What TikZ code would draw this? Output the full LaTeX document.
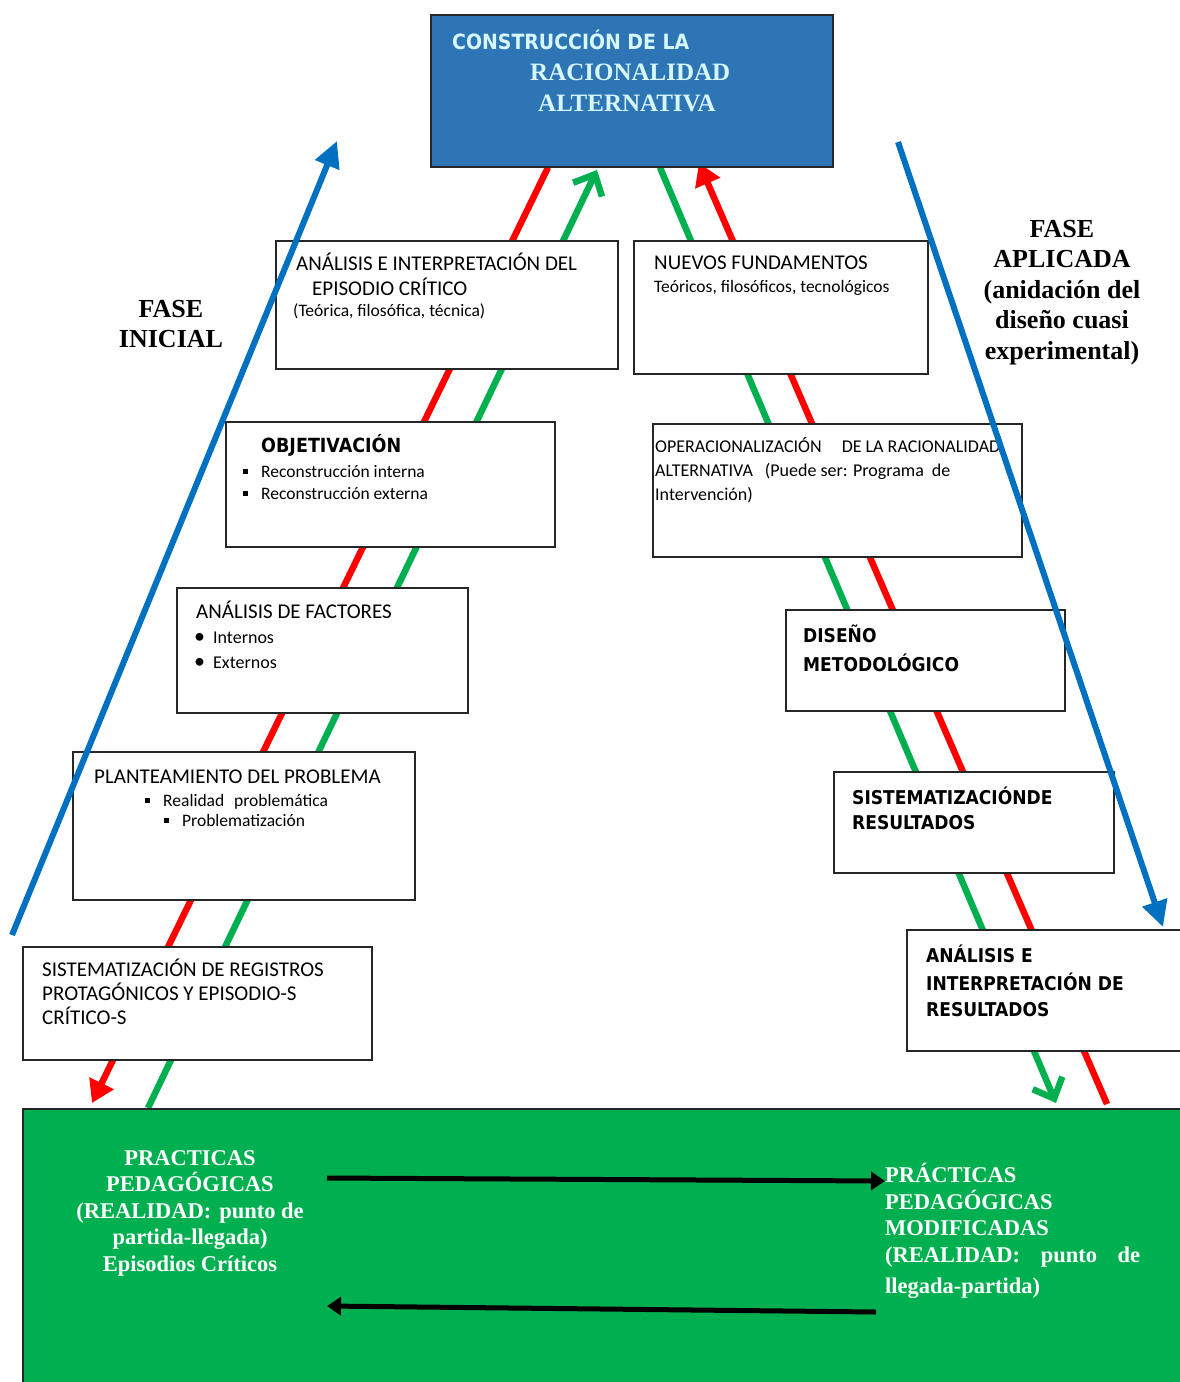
\documentclass[tikz,border=0pt]{standalone}
\usepackage{fontspec}
\setmainfont{Liberation Serif}
\setsansfont{Carlito}
\newfontfamily\heavysans{DejaVu Sans Condensed}
\usetikzlibrary{positioning,calc,arrows.meta,backgrounds}

\definecolor{razonblue}{RGB}{46,117,182}
\definecolor{razonink}{RGB}{214,248,252}
\definecolor{realgreen}{RGB}{0,176,80}
\definecolor{faseblue}{RGB}{0,112,192}
\definecolor{backred}{RGB}{255,0,0}

\newcommand{\sqbullet}{\rule[3pt]{5pt}{5pt}\hspace{13pt}}
\newcommand{\rdbullet}{{\fontsize{22}{22}\selectfont\textbullet}\hspace{8pt}}

\tikzset{
  stage/.style={draw=black!85, line width=1.5pt, fill=white, anchor=north west, inner sep=0pt},
  capline/.style={anchor=base west, inner sep=0pt, font=\sffamily\fontsize{21}{21}\selectfont},
  midline/.style={capline, font=\sffamily\fontsize{18}{18}\selectfont},
  smallline/.style={capline, font=\sffamily\fontsize{17.5}{17.5}\selectfont},
  heavyline/.style={capline, font=\heavysans\bfseries\fontsize{19}{19}\selectfont},
  razonline/.style={anchor=base west, inner sep=0pt, text=razonink, font=\bfseries\fontsize{25}{25}\selectfont},
  realline/.style={inner sep=0pt, text=white, font=\bfseries\fontsize{22.5}{26.5}\selectfont},
  faselabel/.style={anchor=north, inner sep=0pt, align=center, font=\bfseries\fontsize{26}{30.5}\selectfont},
  redback/.style={backred, line width=6.5pt, -{Triangle[length=22pt,width=26pt]}},
  greenback/.style={realgreen, line width=6.5pt, -{Straight Barb[length=17pt,width=32pt]}},
  fase/.style={faseblue, line width=6pt, -{Triangle[length=26pt,width=25pt]}},
  cycle/.style={black, line width=5pt, -{Triangle[length=14pt,width=18pt]}},
}

\begin{document}
\begin{tikzpicture}[x=1pt, y=-1pt]
  \clip (0,0) rectangle (1180,1382);
  \useasboundingbox (0,0) rectangle (1180,1382);

  % top and bottom
  \node[stage, fill=razonblue, minimum width=402, minimum height=152] (razon) at (430,14) {};
  \node[stage, fill=realgreen, minimum width=1200, minimum height=300] (practica) at (22,1108) {};

  % left column
  \node[stage, minimum width=342, minimum height=128] (teoria) at (275,240) {};
  \node[stage, minimum width=329, minimum height=125] (objet) at (225,421) {};
  \node[stage, minimum width=291, minimum height=125] (factor) at (176,587) {};
  \node[stage, minimum width=342, minimum height=148] (plante) at (72,751) {};
  \node[stage, minimum width=349, minimum height=113] (regist) at (22,946) {};

  % right column
  \node[stage, minimum width=294, minimum height=133] (nuevos) at (633,240) {};
  \node[stage, minimum width=369, minimum height=133] (operac) at (652,423) {};
  \node[stage, minimum width=279, minimum height=101] (diseno) at (785,609) {};
  \node[stage, minimum width=280, minimum height=101] (sisres) at (833,771) {};
  \node[stage, minimum width=300, minimum height=121] (interp) at (906,929) {};

  % red and green lines behind the boxes
  \coordinate (redUpL) at ($(razon.south west)+(118,0)$);
  \coordinate (redDnL) at (92,1103);
  \coordinate (grnDnL) at ($(practica.north west)+(126,0)$);
  \coordinate (grnUpL) at (597,170);
  \coordinate (grnUpR) at ($(razon.south west)+(230,0)$);
  \coordinate (grnDnR) at (1056,1103);
  \coordinate (redDnR) at ($(practica.north west)+(1085,-4)$);
  \coordinate (redUpR) at (699,163);
  \begin{scope}[on background layer]
    \draw[redback] (redUpL) -- (redDnL);
    \draw[greenback] (grnDnL) -- (grnUpL);
    \draw[greenback] (grnUpR) -- (grnDnR);
    \draw[redback] (redDnR) -- (redUpR);
  \end{scope}

  % top text
  \node[razonline, font=\heavysans\bfseries\fontsize{21}{21}\selectfont] (razon1) at (452,49) {CONSTRUCCIÓN DE LA};
  \node[razonline] (razon2) at (530,80) {RACIONALIDAD};
  \node[razonline] (razon3) at (538,111) {ALTERNATIVA};

  % left texts
  \node[capline] (teoria1) at (296,270) {ANÁLISIS E INTERPRETACIÓN DEL};
  \node[capline] (teoria2) at (312,295) {EPISODIO CRÍTICO};
  \node[smallline] (teoria3) at (293,316) {(Teórica, filosófica, técnica)};
  \node[heavyline, font=\heavysans\bfseries\fontsize{19.5}{19.5}\selectfont] (objet1) at (261,452) {OBJETIVACIÓN};
  \node[smallline] (objet2) at (243,477) {\sqbullet Reconstrucción interna};
  \node[smallline] (objet3) at (243,499) {\sqbullet Reconstrucción externa};
  \node[capline] (factor1) at (196,618) {ANÁLISIS DE FACTORES};
  \node[midline] (factor2) at (194,643) {\rdbullet Internos};
  \node[midline] (factor3) at (194,668) {\rdbullet Externos};
  \node[capline] (plante1) at (94,783) {PLANTEAMIENTO DEL PROBLEMA};
  \node[smallline] (plante2) at (145,806) {\sqbullet Realidad\hspace{6pt} problemática};
  \node[smallline] (plante3) at (164,826) {\sqbullet Problematización};
  \node[capline] (regist1) at (42,976) {SISTEMATIZACIÓN DE REGISTROS};
  \node[capline] (regist2) at (42,1000) {PROTAGÓNICOS Y EPISODIO-S};
  \node[capline] (regist3) at (42,1024) {CRÍTICO-S};

  % right texts
  \node[capline] (nuevos1) at (654,269) {NUEVOS FUNDAMENTOS};
  \node[smallline] (nuevos2) at (654,292) {Teóricos, filosóficos, tecnológicos};
  \node[midline] (operac1) at (655,452) {OPERACIONALIZACIÓN\hspace{20pt}DE LA RACIONALIDAD};
  \node[midline] (operac2) at (655,476) {ALTERNATIVA\hspace{12pt}(Puede ser: Programa\hspace{8pt}de};
  \node[midline] (operac3) at (655,500) {Intervención)};
  \node[heavyline] (diseno1) at (803,642) {DISEÑO};
  \node[heavyline] (diseno2) at (803,671) {METODOLÓGICO};
  \node[heavyline] (sisres1) at (852,804) {SISTEMATIZACIÓNDE};
  \node[heavyline] (sisres2) at (852,829) {RESULTADOS};
  \node[heavyline] (interp1) at (926,962) {ANÁLISIS E};
  \node[heavyline] (interp2) at (926,990) {INTERPRETACIÓN DE};
  \node[heavyline] (interp3) at (926,1016) {RESULTADOS};

  % practice box
  \node[realline, anchor=north, align=center] (antes) at (190,1150)
    {PRACTICAS\\PEDAGÓGICAS\\(REALIDAD:\hspace{8pt}punto de\\partida-llegada)\\Episodios Críticos};
  \node[realline, anchor=north west, align=left] (despues) at (885,1163)
    {PRÁCTICAS\\PEDAGÓGICAS\\MODIFICADAS\\\makebox[255pt][s]{(REALIDAD:\hfill punto\hfill de}\\[5pt]llegada-partida)};
  \coordinate (goA) at (327,1178);
  \coordinate (goB) at (885,1181);
  \coordinate (backA) at (876,1312);
  \coordinate (backB) at (327,1306);
  \draw[cycle] (goA) -- (goB);
  \draw[cycle] (backA) -- (backB);

  % phases
  \node[faselabel] (inicial) at (171,300) {FASE\\INICIAL};
  \node[faselabel] (aplicada) at (1062,220) {FASE\\APLICADA\\(anidación del\\diseño cuasi\\experimental)};
  \coordinate (iniTail) at (12,935);
  \coordinate (iniHead) at (337,141);
  \coordinate (aplTail) at (898,142);
  \coordinate (aplHead) at (1163,927);
  \draw[fase] (iniTail) -- (iniHead);
  \draw[fase] (aplTail) -- (aplHead);
\end{tikzpicture}
\end{document}
